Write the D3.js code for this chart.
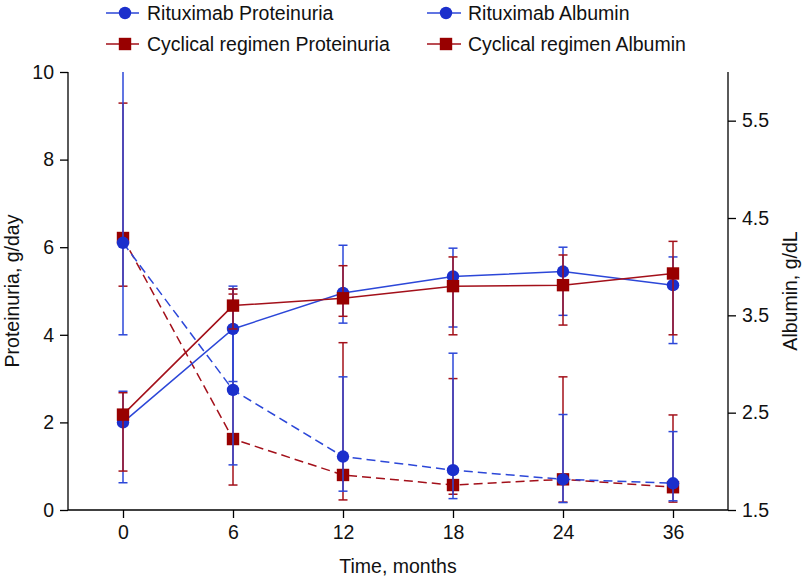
<!DOCTYPE html>
<html>
<head>
<meta charset="utf-8">
<script src="https://cdn.jsdelivr.net/npm/d3@7"></script>
<style>
  html, body { margin: 0; padding: 0; background: #fff; }
  svg { display: block; font-family: "Liberation Sans", Arial, Helvetica, sans-serif; }
</style>
</head>
<body>
<svg id="chart" width="802" height="578"></svg>
<script>
// ---- data ----
const months = ["0", "6", "12", "18", "24", "36"];

const ritProt   = [6.10, 2.74, 1.22, 0.91, 0.70, 0.61];
const ritProtLo = [4.00, 1.03, 0.43, 0.26, 0.17, 0.21];
const ritProtHi = [10.5, 5.05, 3.04, 3.58, 2.18, 1.79];

const cycProt   = [6.21, 1.62, 0.80, 0.57, 0.70, 0.52];
const cycProtLo = [5.11, 0.57, 0.23, 0.36, 0.18, 0.18];
const cycProtHi = [9.29, 4.93, 3.82, 3.00, 3.04, 2.17];

const ritAlb    = [2.40, 3.36, 3.73, 3.90, 3.95, 3.81];
const ritAlbLo  = [1.78, 2.82, 3.42, 3.38, 3.50, 3.21];
const ritAlbHi  = [2.72, 3.80, 4.22, 4.19, 4.20, 4.10];

const cycAlb    = [2.48, 3.60, 3.675, 3.80, 3.81, 3.93];
const cycAlbLo  = [1.90, 3.36, 3.49, 3.30, 3.40, 3.30];
const cycAlbHi  = [2.705, 3.77, 4.01, 4.10, 4.12, 4.26];

const leftTicks  = [0, 2, 4, 6, 8, 10];
const rightTicks = [1.5, 2.5, 3.5, 4.5, 5.5];

const legendLabels = ["Rituximab Proteinuria", "Rituximab Albumin",
                      "Cyclical regimen Proteinuria", "Cyclical regimen Albumin"];

// ---- layout ----
const W = 802, H = 578;
const plot = { left: 68, right: 728, top: 72, bottom: 510 };
const BLUE = "#1b2fcc", BLUE_L = "#2c47d8";
const RED = "#980000", RED_L = "#a3101a";
const FS = 19.5;

const svg = d3.select("#chart");

const x = d3.scalePoint().domain(months).range([plot.left, plot.right]).padding(0.5);
const yL = d3.scaleLinear().domain([0, 10]).range([plot.bottom, plot.top]);
const yR = d3.scaleLinear().domain([1.5, 6]).range([plot.bottom, plot.top]);

svg.append("defs").append("clipPath").attr("id", "clip")
  .append("rect").attr("x", plot.left).attr("y", plot.top)
  .attr("width", plot.right - plot.left).attr("height", plot.bottom - plot.top);

// axes
const axL = svg.append("g").attr("transform", `translate(${plot.left},0)`)
  .call(d3.axisLeft(yL).tickValues(leftTicks).tickSize(8).tickPadding(6).tickFormat(d3.format("d")));
const axR = svg.append("g").attr("transform", `translate(${plot.right},0)`)
  .call(d3.axisRight(yR).tickValues(rightTicks).tickSize(8).tickPadding(6).tickFormat(d3.format(".1f")));
const axB = svg.append("g").attr("transform", `translate(0,${plot.bottom})`)
  .call(d3.axisBottom(x).tickSize(8).tickPadding(7));
[axL, axR, axB].forEach(a => {
  a.select(".domain").attr("stroke", "#000").attr("stroke-width", 1.3);
  a.selectAll(".tick line").attr("stroke", "#000").attr("stroke-width", 1.3);
  a.selectAll(".tick text").attr("font-size", FS).attr("fill", "#111")
    .attr("font-family", '"Liberation Sans", Arial, sans-serif');
});
axB.select(".domain").attr("d", `M${plot.left},0H${plot.right}`);
axL.select(".domain").attr("d", `M0,${plot.bottom}V${plot.top}`);
axR.select(".domain").attr("d", `M0,${plot.bottom}V${plot.top}`);

// titles
svg.append("text").attr("transform", `translate(19,${(plot.top + plot.bottom) / 2}) rotate(-90)`)
  .attr("text-anchor", "middle").attr("font-size", FS).attr("fill", "#111").text("Proteinuria, g/day");
svg.append("text").attr("transform", `translate(797,${(plot.top + plot.bottom) / 2}) rotate(-90)`)
  .attr("text-anchor", "middle").attr("font-size", FS).attr("fill", "#111").text("Albumin, g/dL");
svg.append("text").attr("x", (plot.left + plot.right) / 2).attr("y", 573)
  .attr("text-anchor", "middle").attr("font-size", FS).attr("fill", "#111").text("Time, months");

// series
const series = [
  { v: cycProt, lo: cycProtLo, hi: cycProtHi, y: yL, color: RED, lcolor: RED_L, dash: "9,5", shape: "square" },
  { v: ritProt, lo: ritProtLo, hi: ritProtHi, y: yL, color: BLUE, lcolor: BLUE_L, dash: "9,5", shape: "circle" },
  { v: ritAlb, lo: ritAlbLo, hi: ritAlbHi, y: yR, color: BLUE, lcolor: BLUE_L, dash: null, shape: "circle" },
  { v: cycAlb, lo: cycAlbLo, hi: cycAlbHi, y: yR, color: RED, lcolor: RED_L, dash: null, shape: "square" }
];

const g = svg.append("g").attr("clip-path", "url(#clip)");
const CAP = 4.5;

function drawMarker(sel, shape, color, cx, cy) {
  if (shape === "circle") {
    sel.append("circle").attr("cx", cx).attr("cy", cy).attr("r", 6.2).attr("fill", color);
  } else {
    sel.append("rect").attr("x", cx - 6.2).attr("y", cy - 6.2).attr("width", 12.4).attr("height", 12.4).attr("fill", color);
  }
}

series.forEach(s => {
  const sg = g.append("g");
  months.forEach((m, i) => {
    const cx = x(m);
    sg.append("line").attr("x1", cx).attr("x2", cx)
      .attr("y1", s.y(s.lo[i])).attr("y2", s.y(s.hi[i]))
      .attr("stroke", s.lcolor).attr("stroke-width", 1.5);
    [s.lo[i], s.hi[i]].forEach(val => {
      sg.append("line").attr("x1", cx - CAP).attr("x2", cx + CAP)
        .attr("y1", s.y(val)).attr("y2", s.y(val))
        .attr("stroke", s.lcolor).attr("stroke-width", 1.5);
    });
  });
  const line = d3.line().x((d, i) => x(months[i])).y(d => s.y(d));
  sg.append("path").datum(s.v).attr("d", line).attr("fill", "none")
    .attr("stroke", s.lcolor).attr("stroke-width", 1.5)
    .attr("stroke-dasharray", s.dash);
  s.v.forEach((d, i) => drawMarker(sg, s.shape, s.color, x(months[i]), s.y(d)));
});

// legend
const legendItems = [
  { label: legendLabels[0], x: 106, y: 13, color: BLUE, lcolor: BLUE_L, dash: "14,5", shape: "circle" },
  { label: legendLabels[1], x: 427, y: 13, color: BLUE, lcolor: BLUE_L, dash: null, shape: "circle" },
  { label: legendLabels[2], x: 106, y: 44, color: RED, lcolor: RED_L, dash: "14,5", shape: "square" },
  { label: legendLabels[3], x: 427, y: 44, color: RED, lcolor: RED_L, dash: null, shape: "square" }
];
const lg = svg.append("g");
legendItems.forEach(it => {
  lg.append("line").attr("x1", it.x).attr("x2", it.x + 34).attr("y1", it.y).attr("y2", it.y)
    .attr("stroke", it.lcolor).attr("stroke-width", 1.5).attr("stroke-dasharray", it.dash);
  drawMarker(lg, it.shape, it.color, it.x + 19, it.y);
  lg.append("text").attr("x", it.x + 41).attr("y", it.y).attr("dy", "0.36em")
    .attr("font-size", FS).attr("fill", "#111").text(it.label);
});
</script>
</body>
</html>
